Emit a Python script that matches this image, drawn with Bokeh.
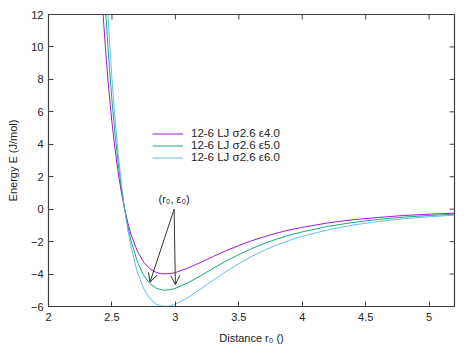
import math
from bokeh.plotting import figure
from bokeh.models import (FixedTicker, Range1d, Legend, LegendItem,
                          Arrow, OpenHead, Label)
from bokeh.embed import file_html
from bokeh.resources import INLINE

# ---- data ----
r = [2.400, 2.425, 2.450, 2.475, 2.500, 2.525, 2.550, 2.575, 2.600, 2.625, 2.650,
     2.700, 2.750, 2.800, 2.850, 2.900, 2.950, 3.000, 3.100, 3.200, 3.300, 3.400,
     3.500, 3.600, 3.700, 3.800, 3.900, 4.000, 4.200, 4.400, 4.600, 4.800, 5.000, 5.200]
e_eps4 = [15.95, 12.62, 9.79, 7.40, 5.37, 3.66, 2.22, 1.01, 0.00, -0.84, -1.54,
          -2.59, -3.27, -3.68, -3.91, -3.99, -3.98, -3.91, -3.63, -3.28, -2.91, -2.56,
          -2.24, -1.95, -1.70, -1.47, -1.28, -1.12, -0.85, -0.65, -0.51, -0.39, -0.31, -0.25]
e_eps5 = [19.93, 15.77, 12.24, 9.25, 6.71, 4.58, 2.78, 1.27, 0.00, -1.05, -1.93,
          -3.23, -4.08, -4.60, -4.88, -4.99, -4.98, -4.88, -4.54, -4.10, -3.64, -3.20,
          -2.80, -2.44, -2.12, -1.84, -1.60, -1.40, -1.06, -0.82, -0.63, -0.49, -0.39, -0.31]
e_eps6 = [23.92, 18.92, 14.69, 11.10, 8.06, 5.49, 3.33, 1.52, 0.00, -1.27, -2.31,
          -3.88, -4.90, -5.52, -5.86, -5.99, -5.98, -5.86, -5.45, -4.92, -4.37, -3.84,
          -3.36, -2.92, -2.54, -2.21, -1.92, -1.67, -1.28, -0.98, -0.76, -0.59, -0.47, -0.37]
series_labels = ["12-6 LJ σ2.6 ε4.0", "12-6 LJ σ2.6 ε5.0", "12-6 LJ σ2.6 ε6.0"]
series_colors = ["#9400d3", "#009e73", "#56b4e9"]

x_ticks = [2, 2.5, 3, 3.5, 4, 4.5, 5]
y_ticks = [-6, -4, -2, 0, 2, 4, 6, 8, 10, 12]
x_min, x_max = 2, 5.2
y_min, y_max = -6, 12

annot_text = "(r₀, ε₀)"
annot_pos = (2.99, 0.6)
arrow_start = (2.99, 0.0)
arrow_ends = [(2.80, -4.50), (3.00, -4.65)]

FONT = "Liberation Sans"
AXC = "#404040"
TXT = "#222222"

p = figure(width=474, height=355, output_backend="svg", toolbar_location=None,
           x_range=Range1d(x_min, x_max), y_range=Range1d(y_min, y_max),
           min_border_left=48, min_border_right=20, min_border_top=14, min_border_bottom=49,
           x_axis_label="Distance r₀ ()", y_axis_label="Energy E (J/mol)")
p.grid.visible = False
p.outline_line_color = AXC
p.outline_line_width = 1.2

p.xaxis.ticker = FixedTicker(ticks=x_ticks)
p.yaxis.ticker = FixedTicker(ticks=y_ticks)
for ax in (p.xaxis[0], p.yaxis[0]):
    ax.axis_line_color = AXC
    ax.major_tick_line_color = AXC
    ax.major_tick_in = 5
    ax.major_tick_out = 0
    ax.minor_tick_line_color = None
    ax.major_label_text_font = FONT
    ax.major_label_text_font_size = "11px"
    ax.major_label_text_color = TXT
    ax.axis_label_text_font = FONT
    ax.axis_label_text_font_size = "11px"
    ax.axis_label_text_font_style = "normal"
    ax.axis_label_text_color = TXT
p.xaxis.major_label_standoff = 6
p.yaxis.major_label_standoff = 5
p.xaxis.axis_label_standoff = 8
p.yaxis.axis_label_standoff = 9

# mirror ticks on top and right edges (gnuplot style), clipped to the frame
p.scatter(x_ticks, [y_max] * len(x_ticks), marker="dash", angle=math.pi / 2, size=10,
          line_color=AXC, line_width=1)
p.scatter([x_max] * len(y_ticks), y_ticks, marker="dash", size=10,
          line_color=AXC, line_width=1)

renderers = []
for ys, c in zip([e_eps4, e_eps5, e_eps6], series_colors):
    renderers.append(p.line(r, ys, line_color=c, line_width=1.0, line_alpha=0.9))

legend = Legend(items=[LegendItem(label=l, renderers=[rr]) for l, rr in zip(series_labels, renderers)],
                location=(104, 143), orientation="vertical",
                label_text_font=FONT, label_text_font_size="11.5px", label_text_color=TXT,
                glyph_width=31, glyph_height=11, label_height=11, label_standoff=8,
                spacing=0, padding=0, margin=0,
                border_line_color=None, background_fill_alpha=0)
p.add_layout(legend, "center")

for ex, ey in arrow_ends:
    p.add_layout(Arrow(end=OpenHead(size=9, line_color="#333333", line_width=1),
                       x_start=arrow_start[0], y_start=arrow_start[1], x_end=ex, y_end=ey,
                       line_color="#333333", line_width=1))

p.add_layout(Label(x=annot_pos[0], y=annot_pos[1], text=annot_text, text_align="center",
                   text_baseline="middle", text_font=FONT, text_font_size="11px",
                   text_color=TXT))

open("out.html", "w").write(file_html(p, INLINE))
